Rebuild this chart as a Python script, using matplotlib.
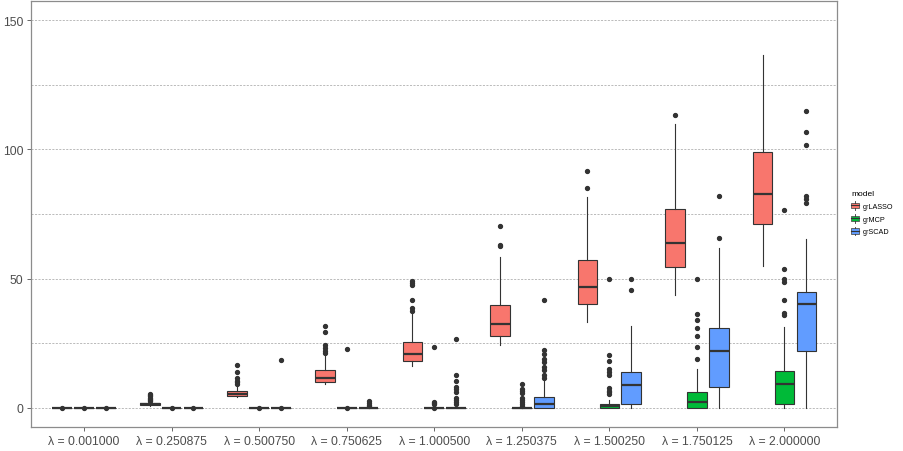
import numpy as np
import matplotlib
matplotlib.use("Agg")
import matplotlib.pyplot as plt
from matplotlib.patches import Rectangle, Patch
from matplotlib.lines import Line2D
from matplotlib.legend_handler import HandlerBase

plt.rcParams['font.family'] = ['Liberation Sans', 'DejaVu Sans']

# data
lambdas = ["λ = 0.001000", "λ = 0.250875", "λ = 0.500750", "λ = 0.750625",
           "λ = 1.000500", "λ = 1.250375", "λ = 1.500250", "λ = 1.750125",
           "λ = 2.000000"]
models = ["grLASSO", "grMCP", "grSCAD"]
colors = ["#F8766D", "#00BA38", "#619CFF"]

# grLASSO
lasso_lo = [0, 0.7, 4.1, 9.3, 16.1, 24.2, 33.3, 43.6, 55.0]
lasso_q1 = [0, 0.9, 4.5, 10.0, 17.9, 27.8, 40.0, 54.5, 71.1]
lasso_med = [0, 1.3, 5.4, 11.3, 20.8, 32.4, 46.9, 63.6, 82.8]
lasso_q3 = [0, 1.8, 6.4, 14.5, 25.6, 39.8, 57.1, 76.9, 99.0]
lasso_hi = [0, 2.2, 8.7, 20.8, 36.6, 58.5, 81.5, 109.8, 136.5]
lasso_out = [[0.05], [2.6, 3.0, 3.4, 3.9, 4.4, 5.0, 5.4],
             [9.3, 9.9, 10.5, 11.3, 13.9, 16.7],
             [21.2, 22.0, 23.1, 24.4, 29.4, 31.7],
             [37.5, 38.6, 41.8, 47.6, 48.4, 49.1],
             [62.5, 63.0, 70.2], [85.2, 91.8], [113.4], []]

# grMCP
mcp_lo = [0, 0, 0, 0, 0, 0, 0, 0, 0]
mcp_q1 = [0, 0, 0, 0, 0, 0, 0, 0, 1.4]
mcp_med = [0, 0, 0, 0, 0, 0, 0.6, 2.3, 9.0]
mcp_q3 = [0, 0, 0, 0, 0, 0, 1.4, 6.1, 14.1]
mcp_hi = [0, 0, 0, 0, 0, 0, 3.0, 15.0, 31.1]
mcp_out = [[0.05], [0.05], [0.05], [0.05, 22.6], [0.05, 1.3, 1.8, 2.3, 23.5],
           [0.8, 1.5, 2.3, 3.1, 3.9, 5.8, 6.5, 7.1, 9.3],
           [5.1, 5.9, 6.6, 7.7, 12.8, 13.8, 14.8, 17.9, 20.2, 49.9],
           [18.8, 23.4, 27.8, 30.7, 33.8, 36.3, 49.9],
           [35.7, 36.5, 41.8, 48.6, 49.9, 53.7, 76.7]]

# grSCAD
scad_lo = [0, 0, 0, 0, 0, 0, 0, 0, 0]
scad_q1 = [0, 0, 0, 0, 0, 0, 1.4, 8.0, 21.9]
scad_med = [0, 0, 0, 0, 0, 1.3, 8.9, 21.9, 40.1]
scad_q3 = [0, 0, 0, 0, 0, 4.1, 13.9, 30.9, 44.7]
scad_hi = [0, 0, 0, 0, 0, 10.9, 31.5, 62.0, 65.2]
scad_out = [[0.05], [0.05], [0.05, 18.4], [0.6, 1.2, 1.8, 2.6],
            [1.3, 2.0, 2.8, 3.6, 6.2, 7.1, 8.0, 10.3, 12.5, 26.6],
            [11.6, 12.5, 14.5, 15.8, 17.5, 19.0, 20.8, 22.5, 41.6],
            [45.6, 49.9], [65.8, 81.9],
            [79.4, 81.0, 81.9, 101.6, 106.8, 115.0]]

series = [
    (lasso_lo, lasso_q1, lasso_med, lasso_q3, lasso_hi, lasso_out),
    (mcp_lo, mcp_q1, mcp_med, mcp_q3, mcp_hi, mcp_out),
    (scad_lo, scad_q1, scad_med, scad_q3, scad_hi, scad_out),
]

fig = plt.figure(figsize=(9.04, 4.52), dpi=100)
ax = fig.add_axes([31.5 / 904, 1 - 428 / 452, (837 - 31.5) / 904, (428 - 2) / 452])

x = np.arange(1, len(lambdas) + 1)
offsets = [-0.25, 0.0, 0.25]
dark = "#333333"

for k, (lo, q1, med, q3, hi, out) in enumerate(series):
    stats = [dict(whislo=lo[i], q1=q1[i], med=med[i], q3=q3[i], whishi=hi[i],
                  fliers=out[i]) for i in range(len(lambdas))]
    ax.bxp(stats, positions=x + offsets[k], widths=0.225, patch_artist=True,
           showcaps=False, manage_ticks=False,
           boxprops=dict(facecolor=colors[k], edgecolor=dark, linewidth=0.8),
           medianprops=dict(color=dark, linewidth=1.6),
           whiskerprops=dict(color=dark, linewidth=0.8),
           flierprops=dict(marker='o', markersize=2.8, markerfacecolor=dark,
                           markeredgecolor=dark, linestyle='none'))

ax.set_xlim(0.4, len(lambdas) + 0.6)
ax.set_ylim(-7.5, 157.5)
ax.set_xticks(x)
ax.set_xticklabels(lambdas)
ax.set_yticks([0, 50, 100, 150])
ax.set_yticks([25, 75, 125], minor=True)
ax.grid(axis='y', which='both', linestyle=(0, (3, 2)), color='#A0A0A0', linewidth=0.5)
ax.set_axisbelow(True)
ax.tick_params(which='major', labelsize=8.8, colors='#4D4D4D', length=3, width=0.6, pad=3)
ax.tick_params(which='minor', length=0)
for s in ax.spines.values():
    s.set_color('#8C8C8C')
    s.set_linewidth(0.9)


class BoxKey(HandlerBase):
    def create_artists(self, legend, orig, xd, yd, w, h, fontsize, trans):
        x0, y0 = -xd, -yd
        r = Rectangle((x0, y0 + 0.2 * h), w, 0.6 * h, facecolor=orig.get_facecolor(),
                      edgecolor='#555555', linewidth=0.6, transform=trans)
        m = Line2D([x0, x0 + w], [y0 + 0.5 * h] * 2, color='#333333', lw=0.8, transform=trans)
        w1 = Line2D([x0 + w / 2] * 2, [y0, y0 + 0.2 * h], color='#333333', lw=0.6, transform=trans)
        w2 = Line2D([x0 + w / 2] * 2, [y0 + 0.8 * h, y0 + h], color='#333333', lw=0.6, transform=trans)
        return [r, m, w1, w2]


handles = [Patch(facecolor=c) for c in colors]
leg = fig.legend(handles, models, handler_map={Patch: BoxKey()}, title="model",
                 loc='upper left', bbox_to_anchor=(846 / 904, 1 - 186 / 452),
                 frameon=False, fontsize=5.2, title_fontsize=6,
                 handlelength=1.1, handleheight=1.5, labelspacing=0.55,
                 handletextpad=0.5, borderpad=0.2)
leg._legend_box.align = "left"

fig.savefig("out.png", dpi=100)
